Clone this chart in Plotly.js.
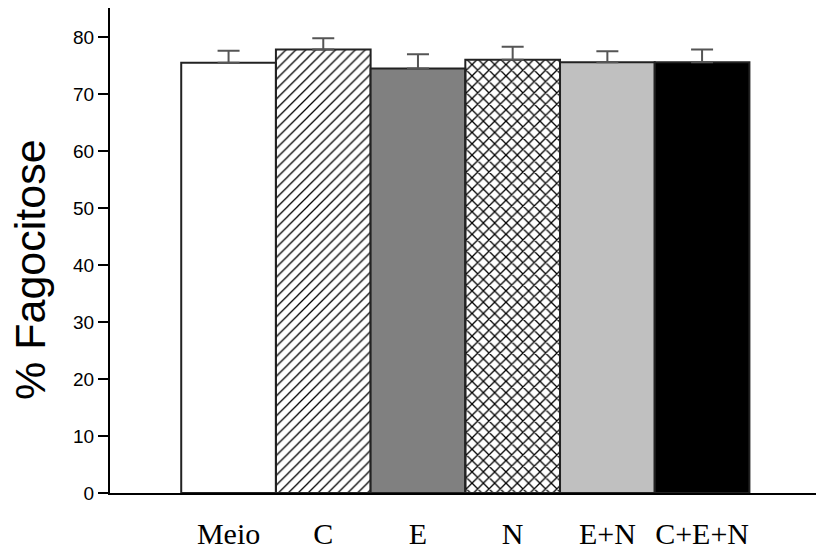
<!DOCTYPE html>
<html>
<head>
<meta charset="utf-8">
<script src="https://cdn.plot.ly/plotly-3.0.1.min.js"></script>
<style>html,body{margin:0;padding:0;background:#fff;}#chart{width:816px;height:552px;}</style>
</head>
<body>
<div id="chart"></div>
<script>
const categories = ["Meio", "C", "E", "N", "E+N", "C+E+N"];
const values = [75.5, 77.8, 74.5, 76.0, 75.6, 75.6];
const errorTops = [77.6, 79.8, 77.0, 78.3, 77.5, 77.8];
const fillColors = ["#ffffff", "#ffffff", "#808080", "#ffffff", "#c0c0c0", "#000000"];
const patternShapes = ["", "/", "", "x", "", ""];
const patternSizes = [8, 7, 8, 8, 8, 8];
const patternSolidity = [0.2, 0.18, 0.2, 0.3, 0.2, 0.2];
const yTitle = "% Fagocitose";

const traces = categories.map((cat, i) => ({
  type: "bar",
  x: [cat],
  y: [values[i]],
  width: 1,
  marker: {
    color: fillColors[i],
    line: { color: "#222", width: 2 },
    pattern: {
      shape: patternShapes[i],
      fgcolor: "#000",
      size: patternSizes[i],
      solidity: patternSolidity[i]
    }
  },
  error_y: {
    type: "data",
    symmetric: false,
    array: [+(errorTops[i] - values[i]).toFixed(2)],
    arrayminus: [0],
    color: "#555",
    thickness: 2,
    width: 11
  },
  hoverinfo: "skip"
}));

const layout = {
  width: 816,
  height: 552,
  margin: { l: 110, r: 0, t: 8, b: 59 },
  paper_bgcolor: "#fff",
  plot_bgcolor: "#fff",
  showlegend: false,
  barmode: "overlay",
  bargap: 0,
  xaxis: {
    type: "category",
    categoryarray: categories,
    categoryorder: "array",
    range: [-1.252, 6.203],
    showline: true,
    linecolor: "#000",
    linewidth: 2,
    showgrid: false,
    zeroline: false,
    ticks: "",
    ticklabelstandoff: 13,
    tickfont: { family: "Liberation Serif, Times New Roman, serif", size: 30, color: "#000" }
  },
  yaxis: {
    range: [0, 85.1],
    tickvals: [0, 10, 20, 30, 40, 50, 60, 70, 80],
    showline: true,
    linecolor: "#000",
    linewidth: 2,
    showgrid: false,
    zeroline: false,
    ticks: "outside",
    ticklen: 10,
    tickwidth: 2,
    tickcolor: "#000",
    tickfont: { family: "Liberation Sans, Arial, Helvetica, sans-serif", size: 19, color: "#000" }
  },
  annotations: [{
    text: yTitle,
    xref: "paper", yref: "paper",
    x: -0.1133, y: 0.46,
    xanchor: "center", yanchor: "middle",
    textangle: -90,
    showarrow: false,
    font: { family: "Liberation Sans, Arial, Helvetica, sans-serif", size: 43, color: "#000" }
  }]
};

Plotly.newPlot("chart", traces, layout, { staticPlot: true, displayModeBar: false }).then(gd => {
  gd.querySelectorAll("path").forEach(p => {
    const f = p.style.fill || p.getAttribute("fill") || "";
    const m = f.match(/url\(["']?[^#"')]*#([^"')]+)["']?\)/);
    if (m) p.style.fill = "url(#" + m[1] + ")";
  });
});
</script>
</body>
</html>
